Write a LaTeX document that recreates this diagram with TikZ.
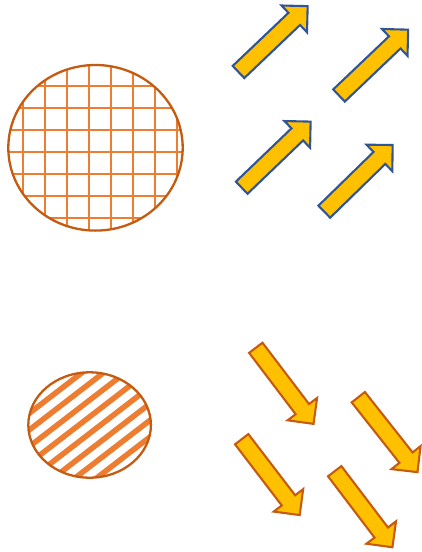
\documentclass[tikz,border=0pt]{standalone}
\definecolor{arrowfill}{HTML}{FFC000}
\definecolor{blueedge}{HTML}{2F5597}
\definecolor{brownedge}{HTML}{C55A11}
\definecolor{gridorange}{HTML}{ED7D31}
\tikzset{
  x=1pt, y=-1pt,
  blockarrow/.pic={
    \draw[line width=2.1pt, line join=miter, pic actions]
      (0,-8.4) -- (77,-8.4) -- (77,-18.5) -- (95.5,0) -- (77,18.5) -- (77,8.4) -- (0,8.4) -- cycle;
  },
  uparrow/.style={fill=arrowfill, draw=blueedge},
  downarrow/.style={fill=arrowfill, draw=brownedge},
  gridline/.style={draw=gridorange, line width=2.4pt},
  stripeline/.style={draw=gridorange, line width=5.5pt},
  outline/.style={draw=brownedge, line width=2.3pt}
}
\begin{document}
\begin{tikzpicture}
\useasboundingbox (0,0) rectangle (421,552);
% big circle with grid
\begin{scope}
  \clip (95.5,147.8) ellipse [x radius=87.2, y radius=82.8];
  \foreach \gx in {22.7,44.7,66.7,88.7,110.7,132.7,154.7,176.7}
    \draw[gridline] (\gx,50) -- (\gx,250);
  \foreach \gy in {85.7,107.7,129.7,151.7,173.7,195.7,217.7}
    \draw[gridline] (0,\gy) -- (200,\gy);
\end{scope}
\draw[outline] (95.5,147.8) ellipse [x radius=87.2, y radius=82.8];
% small ellipse with stripes
\begin{scope}
  \clip (89.6,425) ellipse [x radius=61.3, y radius=52.7];
  \begin{scope}[shift={(40,405)}, rotate=37.6]
    \foreach \k in {-12,...,12}
      \draw[stripeline] (-200,\k*13.2) -- (200,\k*13.2);
  \end{scope}
\end{scope}
\draw[outline] (89.6,425) ellipse [x radius=61.3, y radius=52.7];
% up-right arrows
\pic[uparrow, shift={(238.5,72)}, rotate=43.6] {blockarrow};
\pic[uparrow, shift={(339,95.5)}, rotate=43.6] {blockarrow};
\pic[uparrow, shift={(241.7,187.7)}, rotate=43.8] {blockarrow};
\pic[uparrow, shift={(324.3,211.7)}, rotate=44.3] {blockarrow};
% down-right arrows
\pic[downarrow, shift={(255.8,347.8)}, rotate=-52.8] {blockarrow};
\pic[downarrow, shift={(358.3,397.2)}, rotate=-51.7] {blockarrow};
\pic[downarrow, shift={(241.7,439.2)}, rotate=-52.6] {blockarrow};
\pic[downarrow, shift={(334.7,471.2)}, rotate=-52.8] {blockarrow};
\end{tikzpicture}
\end{document}
